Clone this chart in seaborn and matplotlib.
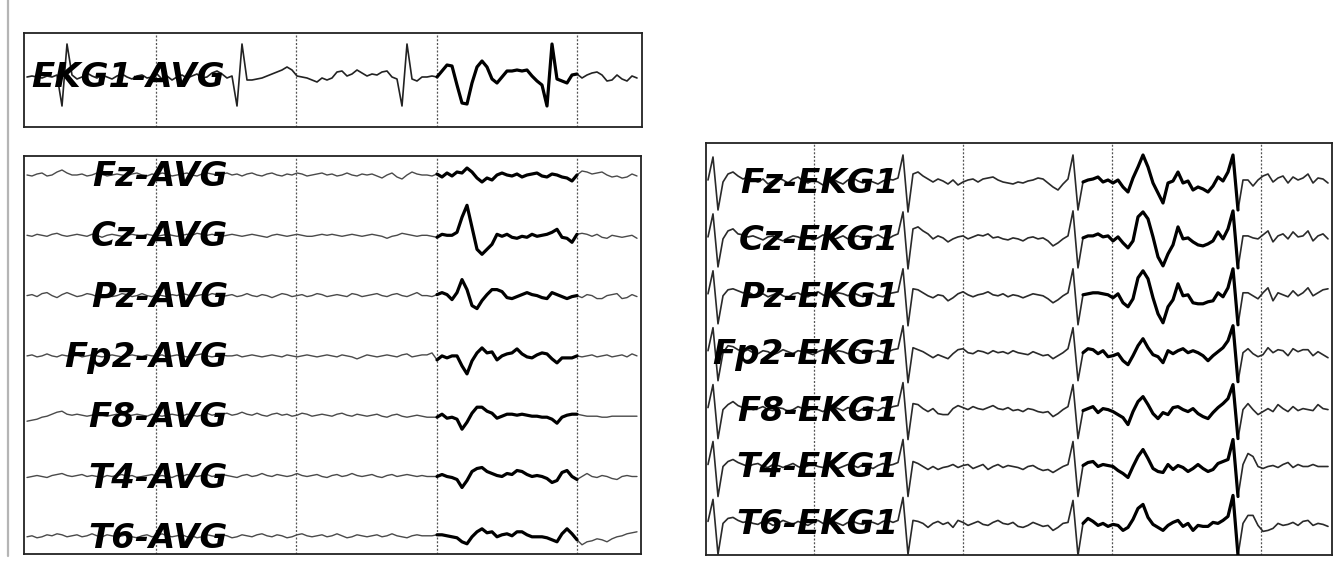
import numpy as np
import pandas as pd
import matplotlib
matplotlib.use("Agg")
import matplotlib.pyplot as plt
from matplotlib.lines import Line2D
import seaborn as sns

# ---------------------------------------------------------------------------
# Sampled traces (amplitude in display units, positive = upward deflection)
# ---------------------------------------------------------------------------
FS_AVG = 28.0    # samples per second, average-reference page
FS_EKG = 29.8    # samples per second, EKG1-reference page

EKG1_AVG = [0, 1, 0, -1, 1, 0, 2, -29, 33, 2,
            -2, 0, 4, 1, -1, 2, 0, -2, 1, 3,
            0, -2, 1, 2, -1, 0, 3, -2, 1, -3,
            0, 2, -1, 1, 3, -1, 0, 4, 6, 3,
            -1, 1, -29, 33, -3, -3, -2, -1, 1, 3,
            5, 7, 10, 7, 1, 0, -1, -3, -5, -1,
            -3, -1, 5, 6, 1, 3, 7, 4, 1, 3,
            2, 5, 6, 0, -2, -29, 33, -2, -4, 0,
            0, 1, 0, 6, 12, 11, -8, -26, -27, -6,
            10, 16, 10, -2, -6, 0, 6, 6, 7, 6,
            7, 1, -4, -8, -29, 33, -2, -4, -6, 2,
            3, -1, 2, 4, 5, 2, -4, -3, 2, -2,
            -4, 1, -1]

AVG_NAMES = ["Fz-AVG", "Cz-AVG", "Pz-AVG", "Fp2-AVG", "F8-AVG", "T4-AVG", "T6-AVG"]

FZ_AVG = [0, -1, 1, 2, -1, 0, 3, 5, 2, 0,
          0, 1, -1, 0, 2, 1, -1, 0, 1, 0,
          -1, 1, 2, 0, -1, 1, 0, 2, 1, -1,
          0, 1, 2, 0, -1, 1, 2, 1, 0, 1,
          2, 0, 1, -1, 1, 2, 0, -1, 1, 2,
          0, -1, 1, 0, 2, 1, -1, 0, 1, 2,
          0, 1, -1, 0, 2, 0, -1, 1, 0, 1,
          -1, -3, 0, 2, -2, -4, 0, 3, 1, 0,
          0, -1, 1, -2, 2, -1, 3, 2, 7, 3,
          -3, -7, -3, -5, 0, 2, 0, -1, 1, -2,
          0, 1, 2, -1, -2, 1, 0, -2, -3, -6,
          0, 4, 3, 1, 2, 3, 0, -2, -1, -3,
          -2, 1, -1]

CZ_AVG = [0, -1, 1, 0, -1, 1, 2, 0, -1, 0,
          1, 0, -1, 1, 0, -2, 0, 1, 0, -1,
          0, 1, 0, -1, 1, 0, -1, 0, 1, 0,
          -1, 0, 1, 0, 2, 1, 0, 1, 0, -1,
          0, 1, 0, -1, 0, 1, 0, -1, -2, 0,
          1, 0, -1, 0, 1, 0, -1, -1, 0, 1,
          0, 1, 0, -1, 0, 1, 0, -1, 0, 1,
          0, -1, -3, -1, 0, 2, 1, 0, -1, 0,
          0, -1, -2, 1, 0, 0, 3, 18, 30, 8,
          -14, -19, -14, -9, 1, -1, 1, -2, -3, -1,
          -2, 1, -1, 0, 1, 3, 6, -2, -3, -7,
          1, 2, 1, -1, 1, -2, -3, 0, -1, -2,
          -1, 0, -3]

PZ_AVG = [0, 1, -1, 2, 3, 0, -2, 1, 3, 1,
          -1, 0, 2, 1, -1, 0, 1, -1, 0, 2,
          1, -1, 0, 2, 0, -1, 1, 0, -1, 1,
          0, 2, 1, -1, 0, 1, 0, 2, 1, -1,
          0, 1, -1, 0, 2, 0, -1, 1, 0, -2,
          0, 2, 1, -1, 0, 1, -1, 0, 2, 1,
          -1, 0, 1, 0, -1, 2, 1, -1, 0, 1,
          2, 0, -1, 1, 2, 0, -1, 1, 3, 0,
          0, -1, 1, 3, 1, -4, 3, 16, 6, -10,
          -13, -5, 1, 6, 6, 4, -2, -3, -1, 1,
          3, 1, 0, -2, -3, 3, 1, -1, -3, -1,
          0, -2, 1, 0, -3, -3, 0, 1, 2, -3,
          -2, 1, -1]

FP2_AVG = [0, 1, -1, 0, 2, 0, -1, 1, 0, 0,
           1, -1, 0, 1, 0, -1, 0, 1, 0, -1,
           0, 1, 0, -1, 1, 0, 0, 1, -1, 0,
           1, 0, -1, 0, 1, 2, 0, -1, 0, 1,
           0, 0, 1, -1, 0, 1, 0, -1, 0, 1,
           0, -1, 1, 0, -1, 0, 1, 0, -1, 0,
           1, 0, -1, 1, 0, -1, -3, -1, 1, 0,
           -1, 0, 1, 0, -1, 1, 2, -1, 0, 1,
           1, 3, -4, 0, -2, 0, 0, -10, -18, -5,
           3, 8, 3, 4, -4, 0, 2, 3, 7, 2,
           -1, -2, 1, 3, 2, -3, -7, -2, -2, -2,
           0, -1, 0, 1, -1, 0, 1, -1, 0, 1,
           -1, 2, 0]

F8_AVG = [-5, -4, -3, -1, 0, 2, 4, 5, 2, 1,
          2, 1, 0, 1, 2, 1, 0, 1, 2, 1,
          0, 1, 2, 1, 0, 2, 1, 0, 1, 2,
          1, 0, 2, 1, 0, 1, 3, 1, 2, 2,
          3, 1, 2, 4, 2, 1, 3, 1, 0, 2,
          3, 1, 2, 0, 1, 3, 2, 0, 1, 2,
          1, 0, 2, 3, 1, 0, 2, 1, 0, 1,
          2, 0, -1, 1, 2, 0, -1, 0, 1, 0,
          -1, -1, -1, 2, -2, -1, -3, -13, -6, 3,
          9, 9, 5, 3, -2, 0, 2, 2, 1, 2,
          1, 0, 0, -1, -1, -3, -7, -1, 1, 2,
          2, 1, 0, 0, 0, -1, -1, 0, 0, 0,
          0, 0, 0]

T4_AVG = [-1, 0, 1, 0, -1, 1, 2, 3, 1, 0,
          1, 2, 0, 1, 0, -1, 1, 0, 1, 2,
          0, 1, -1, 0, 1, 2, 0, 1, 0, -1,
          1, 0, 2, 1, 0, 1, 2, 0, 1, 2,
          1, 0, -1, 1, 2, 0, 1, 3, 1, 0,
          2, 1, 0, 1, 3, 1, 0, 1, 2, 0,
          -1, 1, 2, 0, 1, 3, 1, 0, 1, 2,
          0, -1, 1, 2, 0, 1, 2, 1, 0, 1,
          0, 0, 0, 2, 0, -1, -3, -11, -4, 5,
          8, 9, 5, 3, 1, 0, 3, 2, 6, 5,
          2, 0, 1, 0, -2, -6, -4, 4, 6, 0,
          -3, 0, 3, 0, -1, 1, 0, -2, -3, 0,
          1, 0, 0]

T6_AVG = [0, 1, -1, 0, 2, 1, 3, 2, 0, 1,
          2, 0, 1, 3, 1, 0, 2, 1, 0, 1,
          2, 0, -1, 1, 2, 0, 1, 3, 1, 0,
          1, 2, 0, 1, -1, 0, 2, 1, 0, 2,
          1, -1, 0, 2, 1, 0, 2, 3, 1, 0,
          2, 1, -1, 0, 2, 3, 1, 0, 1, 2,
          0, 1, 3, 1, -1, 0, 2, 1, 0, 1,
          2, 0, 1, 3, 1, 0, -1, 1, 2, 1,
          1, 1, 2, 2, 1, 0, -1, -5, -7, 0,
          5, 8, 4, 5, 0, 2, 3, 1, 5, 5,
          2, 0, 0, 0, -1, -3, -5, 3, 8, 3,
          -3, -8, -5, -4, -2, -3, -5, -2, 0, 1,
          3, 4, 5]

EKG_NAMES = ["Fz-EKG1", "Cz-EKG1", "Pz-EKG1", "Fp2-EKG1", "F8-EKG1", "T4-EKG1", "T6-EKG1"]

FZ_EKG1 = [2, 25, -28, 0, 8, 10, 6, 3, 5, 2,
           0, 3, -2, 1, 4, 2, -1, 3, 5, 1,
           -1, 2, 0, -3, 1, 3, 0, -2, 2, 4,
           1, -1, 2, 0, -2, 1, 3, 2, 4, 27,
           -30, 8, 10, 6, 3, 0, 3, 1, -2, 2,
           -3, 0, 2, 3, 0, 3, 4, 5, 2, 0,
           -1, -2, 0, -1, 1, 2, 4, 3, -1, -5,
           -8, -2, 3, 27, -28, 0, 2, 3, 5, 0,
           2, -1, 2, -5, -10, 4, 15, 27, 15, -1,
           -11, -21, -1, 1, 10, -1, 1, -8, -5, -7,
           -10, -4, 5, 1, 10, 27, -28, 2, 2, -4,
           2, 6, 8, 0, 4, 6, -1, 5, 2, 4,
           8, -1, 4, 3, -1]

CZ_EKG1 = [2, 25, -28, 0, 8, 10, 5, 4, 2, 3,
           1, -1, 2, 3, 0, -2, 1, 3, 2, 0,
           2, -1, 1, 4, 2, -1, 1, 3, 0, 2,
           3, 1, -1, 2, 4, 1, 0, 3, 5, 27,
           -30, 10, 12, 8, 5, 0, 3, 1, -3, 0,
           2, 3, 0, 2, 4, 3, 5, 1, 2, 0,
           -1, 1, 0, -2, 1, 2, 0, 1, -2, -7,
           -4, 0, 3, 28, -29, 1, 3, 3, 5, 2,
           3, -2, 2, -4, -9, -2, 22, 27, 20, 2,
           -18, -27, -15, -6, 12, 0, 1, -3, -6, -7,
           -5, -2, 7, 0, 10, 28, -29, 3, 3, 1,
           0, 4, 8, -3, 3, 5, 0, 7, 2, 3,
           8, -2, 3, 5, 0]

PZ_EKG1 = [2, 25, -28, 0, 6, 7, 5, 3, 4, 1,
           0, 2, -1, 1, 3, 0, -2, 2, 3, 0,
           -1, 2, 4, 1, -2, 0, 3, 2, 0, 3,
           1, -1, 2, 3, 0, -1, 2, 3, 4, 27,
           -30, 7, 6, 3, 0, -2, 1, 0, -5, -2,
           2, 4, 1, -1, 1, 2, 4, 1, 0, 2,
           -1, 1, 0, -2, 0, 2, 1, 0, -3, -7,
           -4, 0, 3, 27, -29, 1, 2, 3, 3, 2,
           1, -2, 2, -7, -11, -3, 18, 25, 17, -2,
           -18, -27, -11, -4, 12, 0, 1, -7, -8, -8,
           -6, -5, 3, -1, 8, 27, -29, 3, 3, 0,
           -3, 3, 8, -5, 3, 1, -1, 5, 0, 3,
           8, 0, 3, 6, 7]

FP2_EKG1 = [2, 25, -28, 0, 7, 6, 3, 1, 3, 0,
            -1, 2, 1, -2, 0, 3, 1, -1, 2, 1,
            0, -2, 1, 3, 0, -1, 2, 1, -1, 2,
            3, 0, -2, 1, 2, 0, 1, 3, 4, 27,
            -30, 5, 3, 1, -2, -5, -2, -4, -6, -1,
            3, 4, 0, -1, 2, 1, -1, 2, 0, 1,
            -1, 2, 0, -1, -2, 1, -1, -3, -2, -6,
            -3, 0, 4, 25, -28, 0, 4, 3, -1, 2,
            -4, -3, -1, -8, -12, -3, 7, 14, 5, -2,
            -4, -10, 2, -1, 2, 4, 0, 2, 0, -3,
            -8, -3, 1, 5, 12, 27, -29, 0, 4, -1,
            -4, -2, 5, 0, 3, 2, -3, 4, 1, 3,
            3, -3, 1, -2, -5]

F8_EKG1 = [2, 25, -29, 0, 5, 8, 4, 2, 3, 0,
           1, 3, 0, -1, 2, 1, -2, 0, 3, 1,
           -1, 2, 0, -2, 1, 3, 1, -1, 2, 0,
           -2, 1, 3, 0, -1, 2, 1, 3, 4, 27,
           -30, 6, 5, 1, -2, 1, -4, -5, -5, 1,
           4, 2, 0, 3, 1, 0, 2, 4, 1, 0,
           2, -1, 0, -2, 1, 0, -2, -3, -2, -7,
           -4, 0, 3, 25, -29, -1, 1, 3, -3, 1,
           0, -2, -5, -8, -15, -2, 8, 13, 5, -4,
           -9, -3, -5, 2, 3, 0, -2, 1, -4, -7,
           -9, -3, 2, 6, 11, 25, -29, 0, 6, 0,
           -5, -2, 1, -2, 5, 1, -2, 3, -1, 1,
           0, -1, 5, 1, 0]

T4_EKG1 = [2, 25, -30, 0, 5, 7, 4, 2, 0, 2,
           3, 0, -1, 2, 1, -1, 1, 3, 0, -2,
           1, 2, 0, -1, 2, 1, -2, 0, 2, 1,
           -1, 2, 0, -2, 1, 3, 1, 2, 4, 27,
           -30, 5, 3, 0, -3, 0, -3, -1, 0, 2,
           -1, 1, 2, -2, 0, 2, -3, 0, 2, -1,
           1, 0, -1, -3, 0, 1, -2, -4, -3, -6,
           -3, 0, 2, 25, -30, 1, 4, 5, 0, 2,
           1, 0, -4, -7, -11, 0, 10, 17, 8, -2,
           -5, -6, 2, -3, 1, -1, -5, -2, 2, -2,
           -5, -3, 3, 5, 7, 27, -30, 2, 13, 10,
           0, -2, 0, 1, -1, 2, 4, -1, 2, 0,
           0, 2, 0, 0, 0]

T6_EKG1 = [2, 24, -31, 0, 5, 6, 3, 1, 2, 0,
           -1, 2, 1, -2, 0, 3, 1, -1, 2, 0,
           -2, 1, 3, 0, -1, 2, 0, -2, 1, 2,
           0, -1, 2, 1, -1, 2, 3, 1, 3, 26,
           -31, 3, 2, 0, -4, 0, 2, -1, 1, -4,
           3, 1, -2, 0, 2, -1, -2, 1, 3, 0,
           -1, 1, -3, -4, -2, 1, -1, -3, -2, -7,
           -4, 0, 1, 23, -32, 0, 5, 2, -2, 0,
           -3, -1, -2, -7, -4, 4, 15, 19, 6, -1,
           -4, -7, -2, 1, 3, -3, 0, -7, -2, -3,
           -3, 1, 0, 3, 7, 28, -32, 0, 8, 8,
           -2, -8, -7, -5, 0, -2, -1, 1, -2, 2,
           3, -2, 0, -1, -3]

# one-second marks and the emphasised epoch on each page (seconds)
SECOND_MARKS_AVG = [0.92, 1.92, 2.93, 3.93]
SECOND_MARKS_EKG = [0.71, 1.71, 2.71, 3.71]
EPOCH_AVG = (2.92, 3.94)
EPOCH_EKG = (2.50, 3.56)

# ---------------------------------------------------------------------------
sns.set_theme(style="white")
plt.rcParams["font.family"] = ["DejaVu Sans"]

W, H = 1339, 564
fig = plt.figure(figsize=(W / 100, H / 100), dpi=100)
fig.patch.set_facecolor("white")


def px_axes(left, top, right, bottom):
    return fig.add_axes([left / W, 1 - bottom / H,
                         (right - left) / W, (bottom - top) / H])


def montage_frame(names, traces, fs, spacing):
    parts = []
    for k, (name, vals) in enumerate(zip(names, traces)):
        v = np.asarray(vals, dtype=float)
        parts.append(pd.DataFrame({"t": np.arange(len(v)) / fs,
                                   "y": v - k * spacing,
                                   "channel": name}))
    return pd.concat(parts, ignore_index=True)


def draw_page(ax, df, marks, epoch, thin_color, thin_lw, thick_lw):
    for m in marks:
        ax.axvline(m, color="#555555", lw=0.9, ls=(0, (1.6, 1.4)), zorder=0)
    sns.lineplot(data=df, x="t", y="y", units="channel", estimator=None,
                 sort=False, color=thin_color, linewidth=thin_lw,
                 legend=False, ax=ax, zorder=2)
    seg = df[(df["t"] >= epoch[0]) & (df["t"] <= epoch[1])]
    sns.lineplot(data=seg, x="t", y="y", units="channel", estimator=None,
                 sort=False, color="black", linewidth=thick_lw,
                 legend=False, ax=ax, zorder=3)
    ax.set_xticks([])
    ax.set_yticks([])
    ax.set_xlabel("")
    ax.set_ylabel("")
    for sp in ax.spines.values():
        sp.set_visible(True)
        sp.set_color("#222222")
        sp.set_linewidth(1.3)


label_kw = dict(fontsize=24.5, fontweight="bold", fontstyle="oblique",
                color="black", ha="right", va="baseline", zorder=5)

# --- EKG reference channel -------------------------------------------------
ax_ekg = px_axes(24, 33, 642, 127)
df_ekg = montage_frame(["EKG1-AVG"], [EKG1_AVG], FS_AVG, 0)
draw_page(ax_ekg, df_ekg, SECOND_MARKS_AVG, EPOCH_AVG, "#222222", 1.2, 2.3)
ax_ekg.set_xlim(-3 / 140, 615 / 140)
ax_ekg.set_ylim(-50, 44)
ax_ekg.text(198 / 140, -10, "EKG1-AVG", **label_kw)

# --- average-reference montage --------------------------------------------
AVG_SPACING = 60.3
ax_avg = px_axes(24, 156, 641, 554)
df_avg = montage_frame(AVG_NAMES,
                       [FZ_AVG, CZ_AVG, PZ_AVG, FP2_AVG, F8_AVG, T4_AVG, T6_AVG],
                       FS_AVG, AVG_SPACING)
draw_page(ax_avg, df_avg, SECOND_MARKS_AVG, EPOCH_AVG, "#4a4a4a", 1.0, 2.3)
ax_avg.set_xlim(-3 / 140, 614 / 140)
ax_avg.set_ylim(-379, 19)
for k, name in enumerate(AVG_NAMES):
    ax_avg.text(201 / 140, -k * AVG_SPACING - 11, name, **label_kw)

# --- EKG1-reference montage -----------------------------------------------
EKG_SPACING = 56.9
ax_ref = px_axes(706, 143, 1332, 555)
df_ref = montage_frame(EKG_NAMES,
                       [FZ_EKG1, CZ_EKG1, PZ_EKG1, FP2_EKG1, F8_EKG1, T4_EKG1, T6_EKG1],
                       FS_EKG, EKG_SPACING)
draw_page(ax_ref, df_ref, SECOND_MARKS_EKG, EPOCH_EKG, "#2a2a2a", 1.2, 2.3)
ax_ref.set_xlim(-2 / 149, 624 / 149)
ax_ref.set_ylim(-373, 39)
for k, name in enumerate(EKG_NAMES):
    ax_ref.text(191 / 149, -k * EKG_SPACING - 11, name, **label_kw)

# page margin rule on the left
fig.add_artist(Line2D([8 / W, 8 / W], [1.0, 1 - 556 / H],
                      color="#b5b5b5", lw=1.6))

fig.savefig("out.png", dpi=100, facecolor="white")
